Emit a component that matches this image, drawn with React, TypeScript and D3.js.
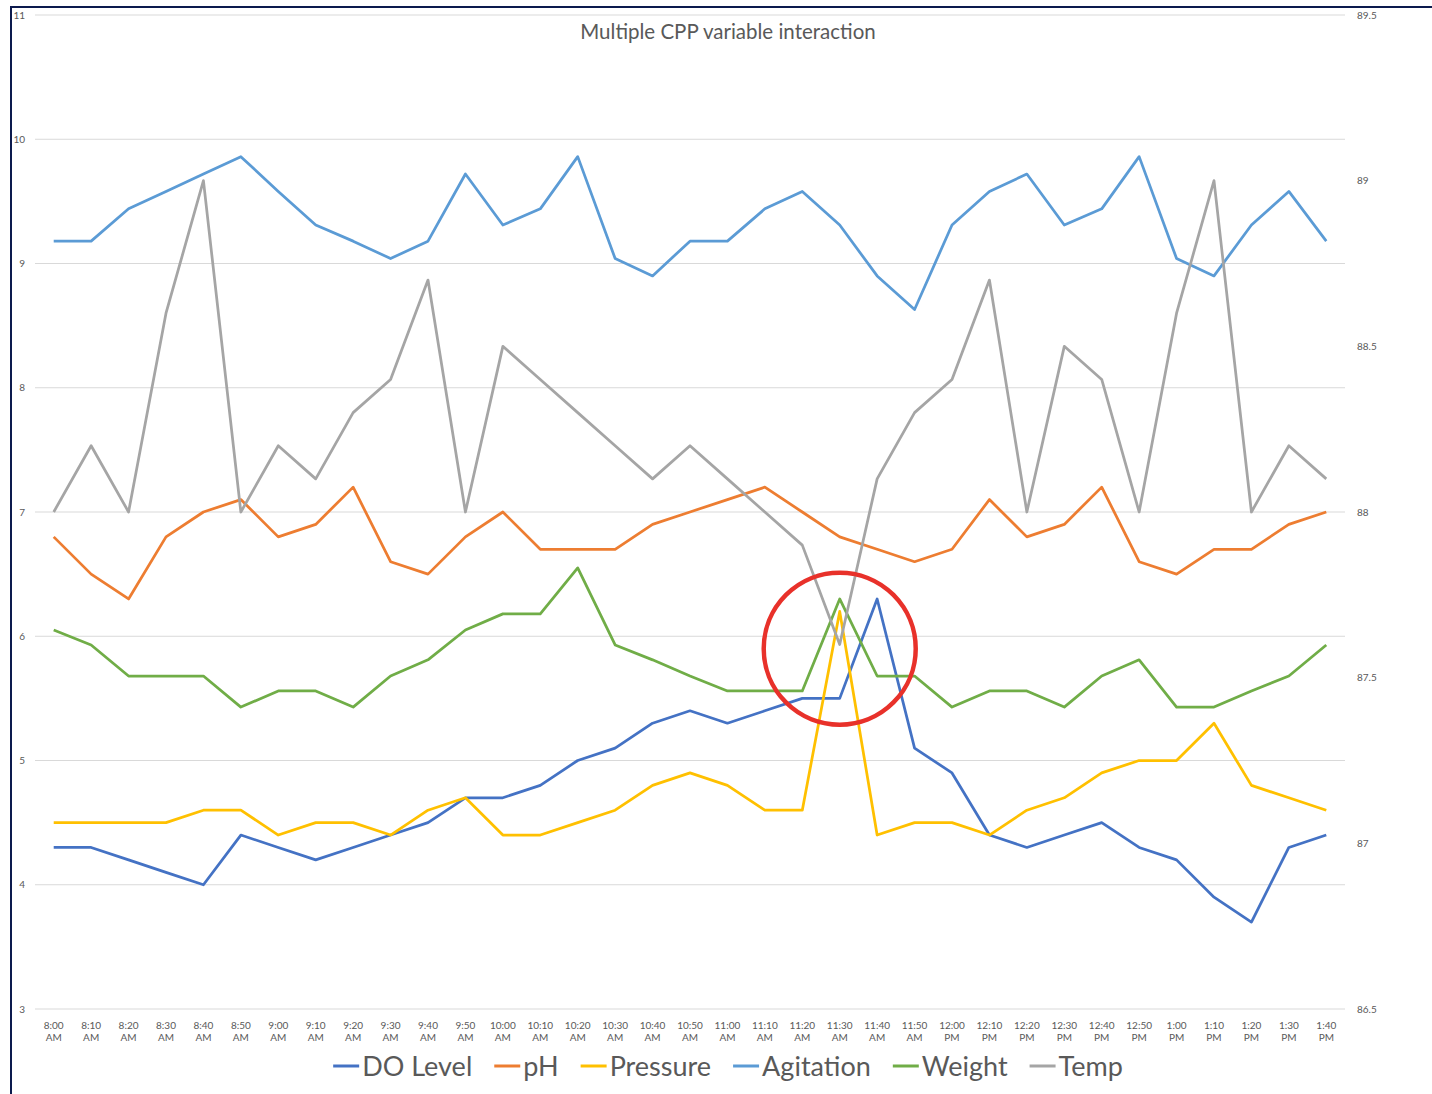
import { useRef, useEffect } from 'react';
import * as d3 from 'd3';

const times = [
  '8:00 AM', '8:10 AM', '8:20 AM', '8:30 AM', '8:40 AM', '8:50 AM', '9:00 AM', '9:10 AM', '9:20 AM',
  '9:30 AM', '9:40 AM', '9:50 AM', '10:00 AM', '10:10 AM', '10:20 AM', '10:30 AM', '10:40 AM',
  '10:50 AM', '11:00 AM', '11:10 AM', '11:20 AM', '11:30 AM', '11:40 AM', '11:50 AM', '12:00 PM',
  '12:10 PM', '12:20 PM', '12:30 PM', '12:40 PM', '12:50 PM', '1:00 PM', '1:10 PM', '1:20 PM',
  '1:30 PM', '1:40 PM',
];

const doLevel = [
  4.3, 4.3, 4.2, 4.1, 4.0, 4.4, 4.3, 4.2, 4.3, 4.4, 4.5, 4.7, 4.7, 4.8, 5.0, 5.1, 5.3, 5.4,
  5.3, 5.4, 5.5, 5.5, 6.3, 5.1, 4.9, 4.4, 4.3, 4.4, 4.5, 4.3, 4.2, 3.9, 3.7, 4.3, 4.4,
];
const ph = [
  6.8, 6.5, 6.3, 6.8, 7.0, 7.1, 6.8, 6.9, 7.2, 6.6, 6.5, 6.8, 7.0, 6.7, 6.7, 6.7, 6.9, 7.0,
  7.1, 7.2, 7.0, 6.8, 6.7, 6.6, 6.7, 7.1, 6.8, 6.9, 7.2, 6.6, 6.5, 6.7, 6.7, 6.9, 7.0,
];
const pressure = [
  4.5, 4.5, 4.5, 4.5, 4.6, 4.6, 4.4, 4.5, 4.5, 4.4, 4.6, 4.7, 4.4, 4.4, 4.5, 4.6, 4.8, 4.9,
  4.8, 4.6, 4.6, 6.2, 4.4, 4.5, 4.5, 4.4, 4.6, 4.7, 4.9, 5.0, 5.0, 5.3, 4.8, 4.7, 4.6,
];
const agitation = [
  9.18, 9.18, 9.44, 9.58, 9.72, 9.86, 9.58, 9.31, 9.18, 9.04, 9.18, 9.72, 9.31, 9.44, 9.86,
  9.04, 8.9, 9.18, 9.18, 9.44, 9.58, 9.31, 8.9, 8.63, 9.31, 9.58, 9.72, 9.31, 9.44, 9.86,
  9.04, 8.9, 9.31, 9.58, 9.18,
];
const weight = [
  6.05, 5.93, 5.68, 5.68, 5.68, 5.43, 5.56, 5.56, 5.43, 5.68, 5.81, 6.05, 6.18, 6.18, 6.55,
  5.93, 5.81, 5.68, 5.56, 5.56, 5.56, 6.3, 5.68, 5.68, 5.43, 5.56, 5.56, 5.43, 5.68, 5.81,
  5.43, 5.43, 5.56, 5.68, 5.93,
];
// Temp sits on the secondary (right) axis
const temp = [
  88.0, 88.2, 88.0, 88.6, 89.0, 88.0, 88.2, 88.1, 88.3, 88.4, 88.7, 88.0, 88.5, 88.4, 88.3,
  88.2, 88.1, 88.2, 88.1, 88.0, 87.9, 87.6, 88.1, 88.3, 88.4, 88.7, 88.0, 88.5, 88.4, 88.0,
  88.6, 89.0, 88.0, 88.2, 88.1,
];

const leftTicks = [3, 4, 5, 6, 7, 8, 9, 10, 11];
const rightTicks = [86.5, 87, 87.5, 88, 88.5, 89, 89.5];

// highlighted spot (category + left-axis value)
const highlightAt = '11:30 AM';
const highlightValue = 5.9;

const FONT = "Lato, 'Open Sans', sans-serif";
const TEXT = '#595959';

export default function App() {
  const ref = useRef<SVGSVGElement>(null);

  useEffect(() => {
    const svgEl = ref.current;
    if (!svgEl) return;
    const svg = d3.select(svgEl);
    svg.selectAll('*').remove();

    const width = 1432;
    const plot = { left: 35, right: 1345, top: 15, bottom: 1009 };
    const center = 728;

    const x = d3.scaleBand().domain(times).range([plot.left, plot.right]).padding(0);
    const cx = (t: string) => x(t)! + x.bandwidth() / 2;
    const yL = d3.scaleLinear().domain([3, 11]).range([plot.bottom, plot.top]);
    const yR = d3.scaleLinear().domain([86.5, 89.5]).range([plot.bottom, plot.top]);

    svg.append('rect').attr('width', width).attr('height', 1094).attr('fill', '#fff');

    // Frame (cropped chart border)
    svg
      .append('path')
      .attr('d', `M11,1094 L11,7 L${width},7`)
      .attr('fill', 'none')
      .attr('stroke', '#0c1a4d')
      .attr('stroke-width', 2);

    // Gridlines
    svg
      .selectAll('.grid')
      .data(leftTicks)
      .enter()
      .append('line')
      .attr('x1', plot.left)
      .attr('x2', plot.right)
      .attr('y1', (d) => yL(d))
      .attr('y2', (d) => yL(d))
      .attr('stroke', '#d9d9d9')
      .attr('stroke-width', 1);

    // Left ticks
    svg
      .selectAll('.lt')
      .data(leftTicks)
      .enter()
      .append('text')
      .attr('x', 25)
      .attr('y', (d) => yL(d))
      .attr('dy', '0.35em')
      .attr('text-anchor', 'end')
      .attr('font-family', FONT)
      .attr('font-size', '10px')
      .attr('fill', TEXT)
      .text((d) => d);

    // Right ticks
    svg
      .selectAll('.rt')
      .data(rightTicks)
      .enter()
      .append('text')
      .attr('x', 1357)
      .attr('y', (d) => yR(d))
      .attr('dy', '0.35em')
      .attr('font-family', FONT)
      .attr('font-size', '10px')
      .attr('fill', TEXT)
      .text((d) => d);

    // X tick labels
    svg
      .selectAll('.xt')
      .data(times)
      .enter()
      .append('text')
      .attr('text-anchor', 'middle')
      .attr('font-family', FONT)
      .attr('font-size', '10px')
      .attr('fill', TEXT)
      .each(function (d) {
        const [hm, ap] = d.split(' ');
        const t = d3.select(this);
        t.append('tspan').attr('x', cx(d)).attr('y', 1028.5).text(hm);
        t.append('tspan').attr('x', cx(d)).attr('y', 1041).text(ap);
      });

    // Title
    svg
      .append('text')
      .attr('x', center)
      .attr('y', 39)
      .attr('text-anchor', 'middle')
      .attr('font-family', FONT)
      .attr('font-size', '20.5px')
      .attr('fill', TEXT)
      .text('Multiple CPP variable interaction');

    const series = [
      { name: 'DO Level', values: doLevel, color: '#4472c4', y: yL },
      { name: 'pH', values: ph, color: '#ed7d31', y: yL },
      { name: 'Pressure', values: pressure, color: '#ffc000', y: yL },
      { name: 'Agitation', values: agitation, color: '#5b9bd5', y: yL },
      { name: 'Weight', values: weight, color: '#70ad47', y: yL },
      { name: 'Temp', values: temp, color: '#a5a5a5', y: yR },
    ];

    series.forEach((s) => {
      const line = d3
        .line<number>()
        .x((_, i) => cx(times[i]))
        .y((v) => s.y(v));
      svg
        .append('path')
        .datum(s.values)
        .attr('d', line)
        .attr('fill', 'none')
        .attr('stroke', s.color)
        .attr('stroke-width', 2.75)
        .attr('stroke-linejoin', 'round');
    });

    // Red highlight circle
    svg
      .append('circle')
      .attr('cx', cx(highlightAt))
      .attr('cy', yL(highlightValue))
      .attr('r', 76)
      .attr('fill', 'none')
      .attr('stroke', '#e8312a')
      .attr('stroke-width', 4.5);

    // Legend
    const legend = svg.append('g');
    let pos = 0;
    series.forEach((s, i) => {
      const g = legend.append('g').attr('transform', `translate(${pos},0)`);
      g.append('line')
        .attr('x1', 0)
        .attr('x2', 26)
        .attr('y1', 1066)
        .attr('y2', 1066)
        .attr('stroke', s.color)
        .attr('stroke-width', 3);
      const t = g
        .append('text')
        .attr('x', 29)
        .attr('y', 1076)
        .attr('font-family', FONT)
        .attr('font-size', '27px')
        .attr('fill', TEXT)
        .text(s.name);
      const w = (t.node() as SVGTextElement).getComputedTextLength();
      pos += 29 + w + (i < series.length - 1 ? 22 : 0);
    });
    legend.attr('transform', `translate(${center - pos / 2},0)`);
  }, []);

  return (
    <svg
      ref={ref}
      width={1432}
      height={1094}
      style={{ position: 'absolute', left: 0, top: 0, display: 'block' }}
    />
  );
}
